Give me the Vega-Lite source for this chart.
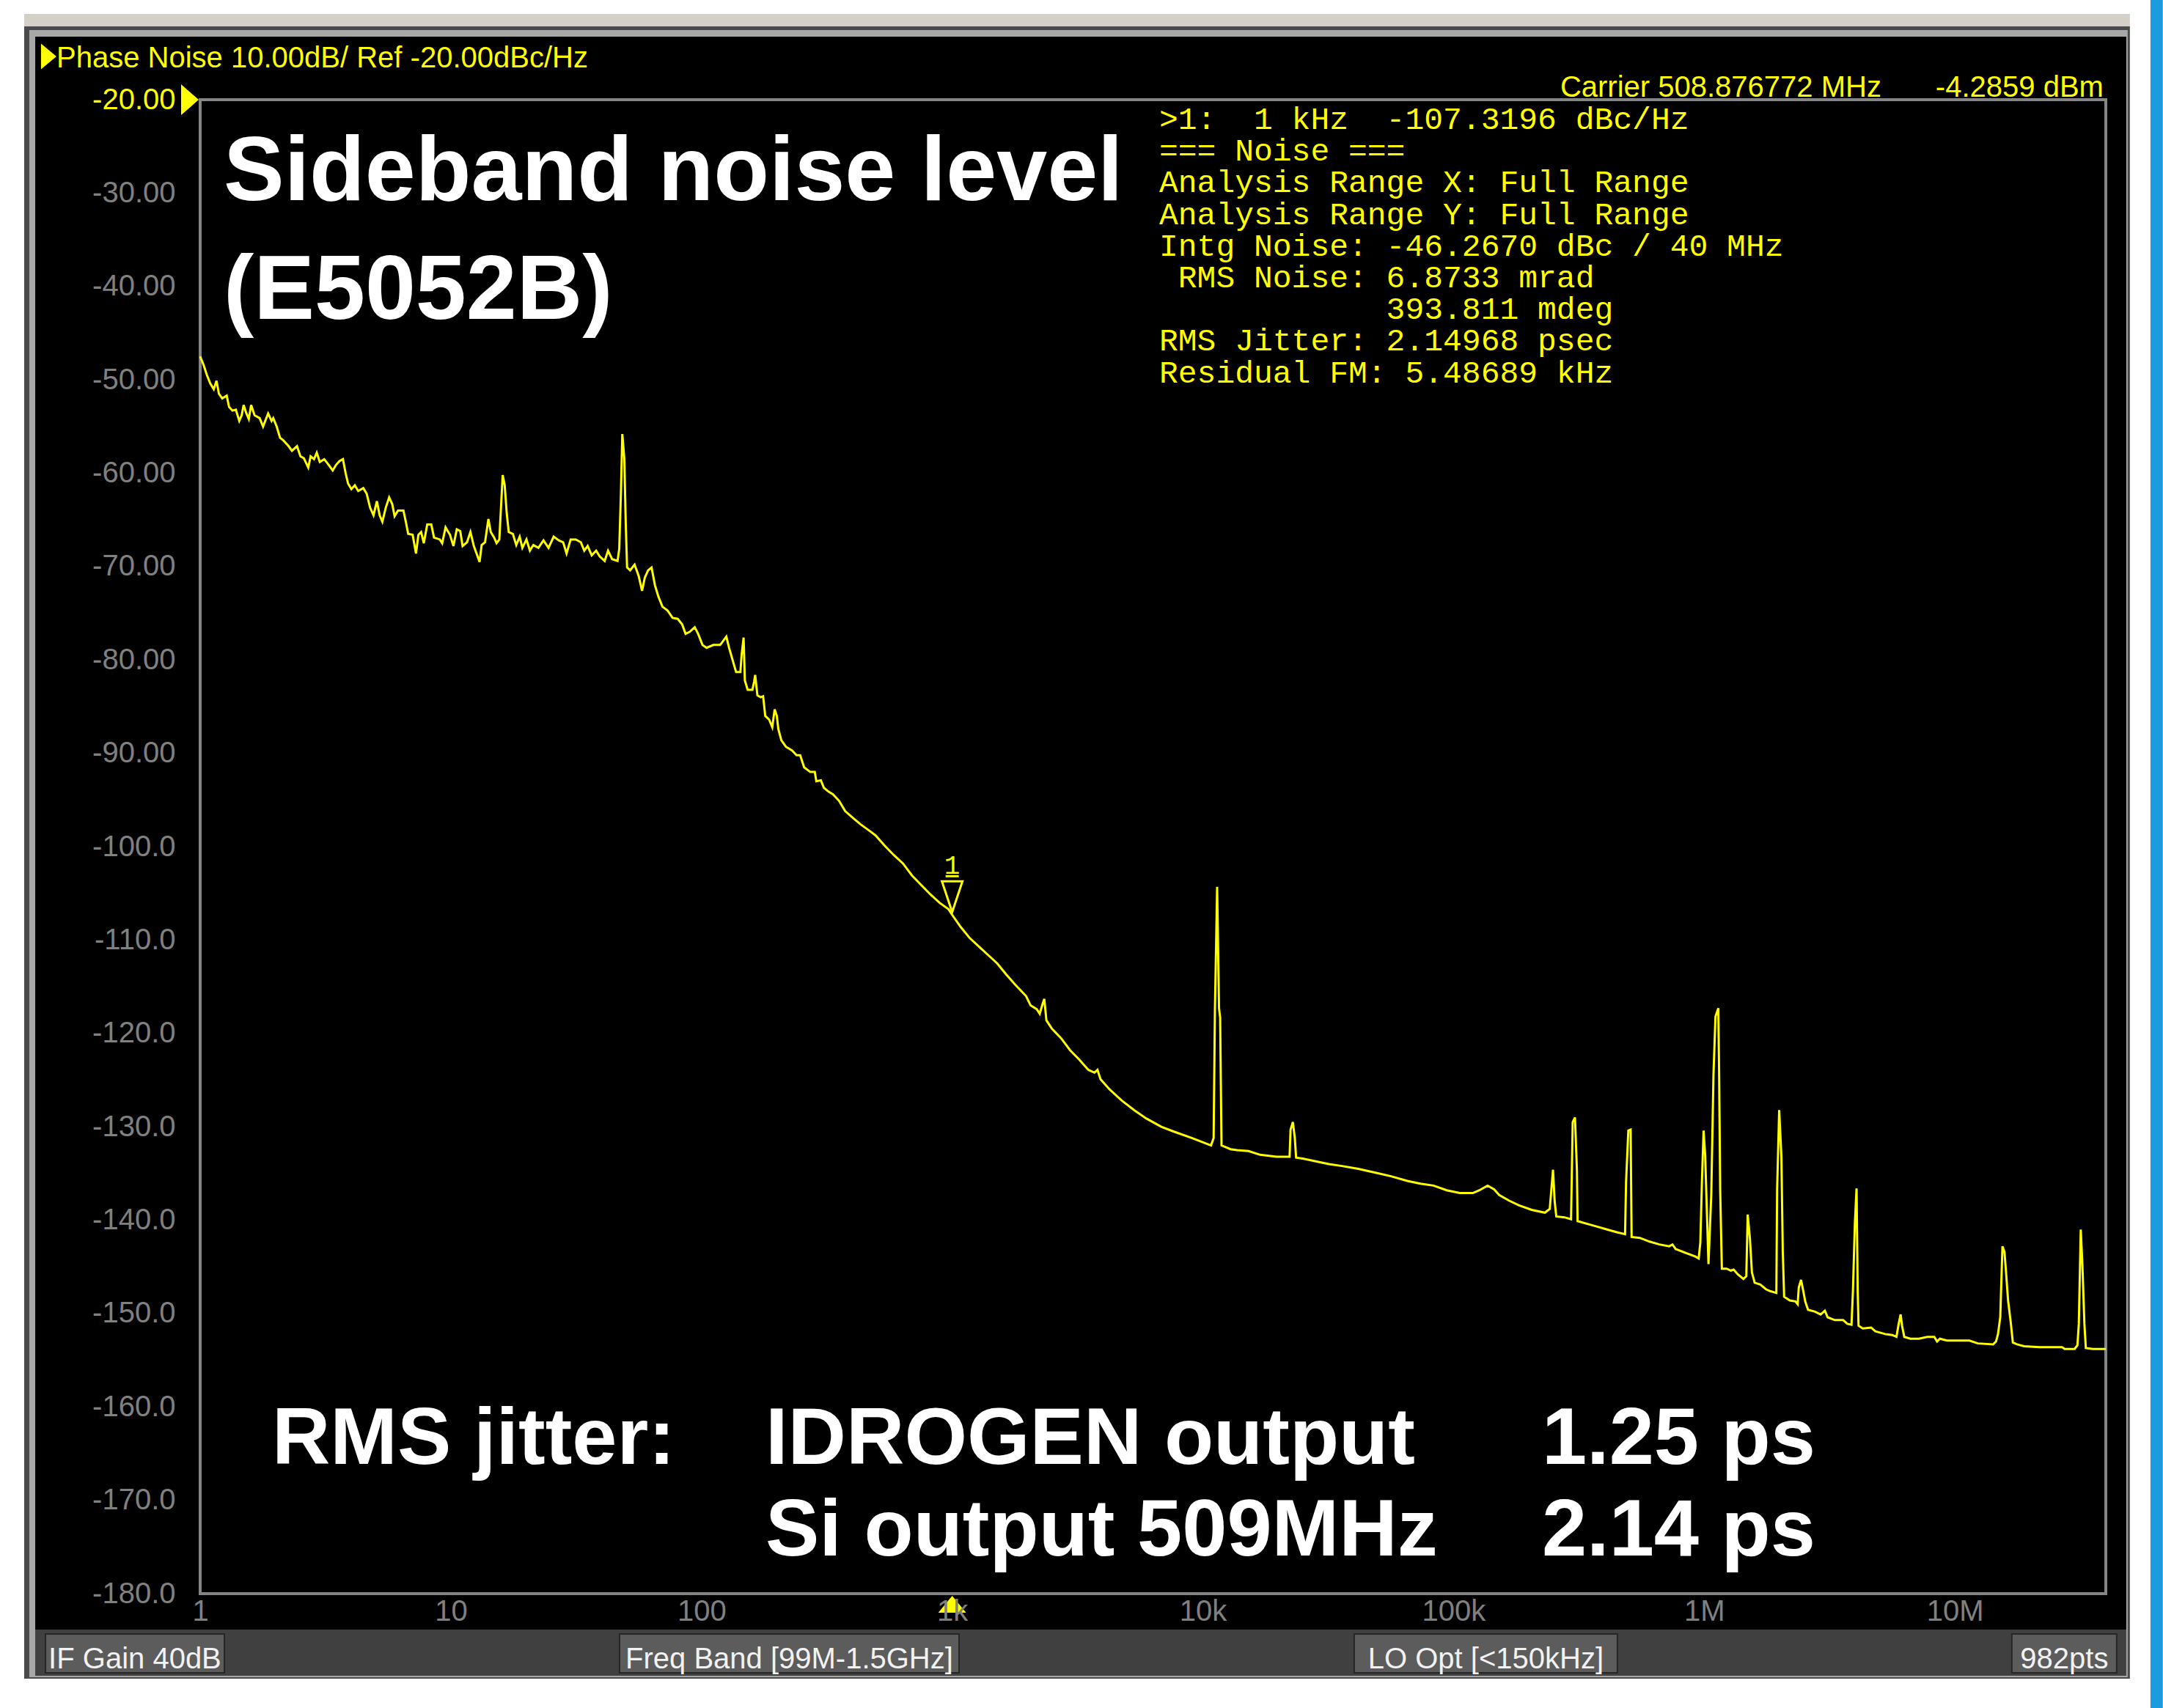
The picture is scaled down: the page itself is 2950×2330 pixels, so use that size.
{
  "$schema": "https://vega.github.io/schema/vega-lite/v6.json",
  "width": 2599,
  "height": 2038,
  "autosize": {"type": "none"},
  "padding": {"left": 273, "top": 136, "right": 78, "bottom": 156},
  "background": "white",
  "config": {"view": {"stroke": null}},
  "datasets": {
    "frame": [
      {"part": "titlebar", "f": 0.1986, "f1": 4.99e7, "db": -10.81, "d1": -12.15},
      {"part": "outer", "f": 0.1986, "f1": 4.99e7, "db": -12.15, "d1": -189.11},
      {"part": "bevel", "f": 0.2082, "f1": 4.89e7, "db": -12.54, "d1": -188.95},
      {"part": "panel", "f": 0.2198, "f1": 4.8265e7, "db": -13.25, "d1": -183.85},
      {"part": "statusbar", "f": 0.2198, "f1": 4.8265e7, "db": -183.85, "d1": -188.79},
      {"part": "edge", "f": 6.027e7, "f1": 6.755e7, "db": -9.32, "d1": -192.25}
    ],
    "statusboxes": [
      {"label": "IF Gain 40dB", "f": 0.2415, "f1": 1.249, "db": -184.32, "d1": -188.48},
      {"label": "Freq Band [99M-1.5GHz]", "f": 47.1, "f1": 1065, "db": -184.32, "d1": -188.48},
      {"label": "LO Opt [<150kHz]", "f": 40150, "f1": 450500, "db": -184.32, "d1": -188.48},
      {"label": "982pts", "f": 1.687e7, "f1": 4.42e7, "db": -184.32, "d1": -188.48}
    ],
    "statustext": [
      {"text": "IF Gain 40dB", "f": 0.549, "db": -188.0},
      {"text": "Freq Band [99M-1.5GHz]", "f": 223.9, "db": -188.0},
      {"text": "LO Opt [<150kHz]", "f": 134500, "db": -188.0},
      {"text": "982pts", "f": 2.732e7, "db": -188.0}
    ],
    "vgrid": [
      {"f": 2}, {"f": 3}, {"f": 4}, {"f": 5}, {"f": 6}, {"f": 7}, {"f": 8}, {"f": 9},
      {"f": 10}, {"f": 20}, {"f": 30}, {"f": 40}, {"f": 50}, {"f": 60}, {"f": 70}, {"f": 80}, {"f": 90},
      {"f": 100}, {"f": 200}, {"f": 300}, {"f": 400}, {"f": 500}, {"f": 600}, {"f": 700}, {"f": 800}, {"f": 900},
      {"f": 1000}, {"f": 2000}, {"f": 3000}, {"f": 4000}, {"f": 5000}, {"f": 6000}, {"f": 7000}, {"f": 8000}, {"f": 9000},
      {"f": 10000}, {"f": 20000}, {"f": 30000}, {"f": 40000}, {"f": 50000}, {"f": 60000}, {"f": 70000}, {"f": 80000}, {"f": 90000},
      {"f": 100000}, {"f": 200000}, {"f": 300000}, {"f": 400000}, {"f": 500000}, {"f": 600000}, {"f": 700000}, {"f": 800000}, {"f": 900000},
      {"f": 1000000}, {"f": 2000000}, {"f": 3000000}, {"f": 4000000}, {"f": 5000000}, {"f": 6000000}, {"f": 7000000}, {"f": 8000000}, {"f": 9000000},
      {"f": 10000000}, {"f": 20000000}, {"f": 30000000}
    ],
    "hgrid": [
      {"db": -30}, {"db": -40}, {"db": -50}, {"db": -60}, {"db": -70}, {"db": -80}, {"db": -90}, {"db": -100},
      {"db": -110}, {"db": -120}, {"db": -130}, {"db": -140}, {"db": -150}, {"db": -160}, {"db": -170}
    ],
    "border": [{"f": 1, "f1": 40000000, "db": -20, "d1": -180}],
    "headline": [
      {"text": "Sideband noise level", "f": 1.24, "db": -30.75},
      {"text": "(E5052B)", "f": 1.24, "db": -43.47}
    ],
    "jitter": [
      {"text": "RMS jitter:", "f": 1.934, "db": -166.07},
      {"text": "IDROGEN output", "f": 179.9, "db": -166.07},
      {"text": "1.25 ps", "f": 225200, "db": -166.07},
      {"text": "Si output 509MHz", "f": 179.9, "db": -175.89},
      {"text": "2.14 ps", "f": 225200, "db": -175.89}
    ],
    "readout": [
      {"lines": [
        ">1:\u00a0\u00a01\u00a0kHz\u00a0\u00a0-107.3196\u00a0dBc/Hz",
        "===\u00a0Noise\u00a0===",
        "Analysis\u00a0Range\u00a0X:\u00a0Full\u00a0Range",
        "Analysis\u00a0Range\u00a0Y:\u00a0Full\u00a0Range",
        "Intg\u00a0Noise:\u00a0-46.2670\u00a0dBc\u00a0/\u00a040\u00a0MHz",
        "\u200b\u00a0RMS\u00a0Noise:\u00a06.8733\u00a0mrad",
        "\u200b\u00a0\u00a0\u00a0\u00a0\u00a0\u00a0\u00a0\u00a0\u00a0\u00a0\u00a0\u00a0393.811\u00a0mdeg",
        "RMS\u00a0Jitter:\u00a02.14968\u00a0psec",
        "Residual\u00a0FM:\u00a05.48689\u00a0kHz"
      ], "f": 6696, "db": -23.14}
    ],
    "carrier": [
      {"text": "Carrier 508.876772 MHz", "f": 5090000, "db": -19.65},
      {"text": "-4.2859 dBm", "f": 39170000, "db": -19.65}
    ],
    "title": [
      {"text": "Phase Noise 10.00dB/ Ref -20.00dBc/Hz", "f": 0.2672, "db": -16.55}
    ],
    "pointers": [
      {"kind": "title", "f": 0.2318, "db": -15.37},
      {"kind": "ref", "f": 1, "db": -20},
      {"kind": "axis", "f": 1000, "db": -180}
    ],
    "marker": [{"text": "1", "f": 1000, "db": -107.32}],
    "trace": [
      {"f":1.0,"db":-47.5},{"f":1.032,"db":-48.4},{"f":1.064,"db":-49.5},{"f":1.098,"db":-50.4},{"f":1.133,"db":-51.0},{"f":1.162,"db":-50.1},{"f":1.188,"db":-51.5},{"f":1.225,"db":-52.0},{"f":1.276,"db":-51.7},{"f":1.304,"db":-52.9},{"f":1.345,"db":-53.3},{"f":1.388,"db":-53.2},{"f":1.432,"db":-54.4},{"f":1.464,"db":-53.8},{"f":1.491,"db":-52.7},{"f":1.524,"db":-53.5},{"f":1.563,"db":-54.2},{"f":1.597,"db":-52.7},{"f":1.648,"db":-53.8},{"f":1.727,"db":-54.1},{"f":1.782,"db":-55.0},{"f":1.867,"db":-53.6},{"f":1.927,"db":-54.4},{"f":1.957,"db":-54.1},{"f":2.019,"db":-55.0},{"f":2.083,"db":-56.2},{"f":2.149,"db":-56.5},{"f":2.252,"db":-57.1},{"f":2.323,"db":-57.6},{"f":2.434,"db":-57.1},{"f":2.512,"db":-58.2},{"f":2.592,"db":-58.4},{"f":2.699,"db":-59.4},{"f":2.758,"db":-58.2},{"f":2.846,"db":-58.5},{"f":2.918,"db":-57.8},{"f":3.001,"db":-58.8},{"f":3.126,"db":-58.5},{"f":3.254,"db":-59.1},{"f":3.379,"db":-59.7},{"f":3.486,"db":-59.1},{"f":3.596,"db":-58.7},{"f":3.711,"db":-58.5},{"f":3.805,"db":-60.0},{"f":3.889,"db":-61.1},{"f":4.012,"db":-61.7},{"f":4.139,"db":-61.3},{"f":4.27,"db":-61.9},{"f":4.475,"db":-61.6},{"f":4.617,"db":-62.2},{"f":4.764,"db":-63.7},{"f":4.915,"db":-64.5},{"f":5.071,"db":-63.0},{"f":5.199,"db":-64.5},{"f":5.331,"db":-65.2},{"f":5.5,"db":-63.7},{"f":5.675,"db":-62.6},{"f":5.836,"db":-63.3},{"f":5.965,"db":-64.6},{"f":6.155,"db":-64.0},{"f":6.47,"db":-64.0},{"f":6.613,"db":-65.2},{"f":6.759,"db":-66.5},{"f":7.04,"db":-66.6},{"f":7.261,"db":-68.6},{"f":7.422,"db":-66.6},{"f":7.61,"db":-66.3},{"f":7.802,"db":-67.5},{"f":8.05,"db":-65.5},{"f":8.356,"db":-65.5},{"f":8.568,"db":-66.9},{"f":9.035,"db":-67.1},{"f":9.235,"db":-67.5},{"f":9.528,"db":-65.8},{"f":9.922,"db":-66.6},{"f":10.24,"db":-67.8},{"f":10.56,"db":-66.0},{"f":10.9,"db":-66.2},{"f":11.14,"db":-67.8},{"f":11.6,"db":-67.4},{"f":11.97,"db":-66.3},{"f":12.35,"db":-67.8},{"f":12.74,"db":-68.8},{"f":13.02,"db":-69.5},{"f":13.27,"db":-67.7},{"f":13.69,"db":-67.4},{"f":14.12,"db":-64.9},{"f":14.43,"db":-66.3},{"f":14.89,"db":-66.9},{"f":15.22,"db":-67.5},{"f":15.61,"db":-67.1},{"f":15.85,"db":-63.7},{"f":16.1,"db":-60.2},{"f":16.4,"db":-61.3},{"f":16.71,"db":-64.3},{"f":17.02,"db":-66.3},{"f":17.68,"db":-66.5},{"f":18.24,"db":-67.7},{"f":18.82,"db":-66.8},{"f":19.29,"db":-68.0},{"f":20.03,"db":-67.1},{"f":20.67,"db":-68.3},{"f":21.33,"db":-67.7},{"f":22.35,"db":-68.0},{"f":23.42,"db":-67.2},{"f":24.53,"db":-68.0},{"f":25.72,"db":-66.8},{"f":26.95,"db":-67.2},{"f":28.06,"db":-67.4},{"f":28.95,"db":-68.6},{"f":30.06,"db":-67.1},{"f":31.5,"db":-67.1},{"f":33.01,"db":-67.4},{"f":34.06,"db":-68.3},{"f":35.14,"db":-67.8},{"f":36.48,"db":-68.8},{"f":37.99,"db":-68.3},{"f":39.2,"db":-68.9},{"f":41.08,"db":-69.4},{"f":42.38,"db":-68.3},{"f":43.99,"db":-69.2},{"f":46.24,"db":-69.4},{"f":46.97,"db":-68.1},{"f":47.71,"db":-62.0},{"f":48.31,"db":-55.8},{"f":49.22,"db":-58.5},{"f":49.84,"db":-65.2},{"f":50.47,"db":-70.1},{"f":51.91,"db":-70.4},{"f":54.07,"db":-69.8},{"f":56.14,"db":-71.0},{"f":57.91,"db":-72.6},{"f":59.38,"db":-71.2},{"f":61.25,"db":-70.4},{"f":63.2,"db":-70.1},{"f":65.2,"db":-72.0},{"f":67.27,"db":-73.2},{"f":69.84,"db":-74.3},{"f":73.18,"db":-74.7},{"f":76.68,"db":-75.5},{"f":80.36,"db":-75.6},{"f":83.71,"db":-76.2},{"f":86.37,"db":-77.2},{"f":89.65,"db":-77.0},{"f":93.96,"db":-76.5},{"f":96.92,"db":-77.2},{"f":100.9,"db":-78.4},{"f":104.8,"db":-78.7},{"f":111.5,"db":-78.4},{"f":118.7,"db":-78.4},{"f":125.6,"db":-77.5},{"f":128.8,"db":-78.7},{"f":133.7,"db":-80.2},
      {"f":137.4,"db":-81.3},{"f":142.9,"db":-81.3},{"f":144.5,"db":-79.5},{"f":147.2,"db":-77.6},{"f":148.9,"db":-82.2},{"f":152.8,"db":-83.2},{"f":159.6,"db":-83.2},{"f":162.2,"db":-82.3},{"f":163.7,"db":-81.6},{"f":167.1,"db":-83.8},{"f":172.2,"db":-84.0},
      {"f":176.1,"db":-83.9},{"f":179.6,"db":-86.0},{"f":186.2,"db":-86.4},{"f":191.5,"db":-87.2},{"f":195.8,"db":-85.3},{"f":199.7,"db":-86.0},{"f":202.5,"db":-87.4},{"f":208.2,"db":-88.6},{"f":217.1,"db":-89.3},{"f":229.6,"db":-89.7},{"f":239.4,"db":-90.2},{"f":247.5,"db":-90.2},{"f":256.7,"db":-91.5},{"f":271.5,"db":-92.0},{"f":283.1,"db":-92.0},{"f":287.1,"db":-93.0},{"f":299.4,"db":-92.9},{"f":307.8,"db":-93.7},{"f":321.0,"db":-94.1},{"f":334.7,"db":-94.4},{"f":353.9,"db":-95.1},{"f":374.3,"db":-96.2},{"f":401.4,"db":-96.9},{"f":430.4,"db":-97.6},{"f":468.0,"db":-98.3},{"f":494.9,"db":-98.8},{"f":538.2,"db":-99.9},{"f":585.0,"db":-100.9},{"f":636.2,"db":-101.8},{"f":691.8,"db":-103.1},{"f":752.0,"db":-104.1},{"f":817.8,"db":-105.1},{"f":889.4,"db":-106.0},{"f":966.9,"db":-106.7},{"f":1000,"db":-107.3},{"f":1081,"db":-108.6},{"f":1176,"db":-109.8},{"f":1279,"db":-110.7},{"f":1390,"db":-111.6},{"f":1512,"db":-112.5},{"f":1644,"db":-113.7},{"f":1787,"db":-114.8},{"f":1971,"db":-116.0},{"f":2055,"db":-117.0},{"f":2174,"db":-117.4},{"f":2235,"db":-117.9},{"f":2285,"db":-117.0},{"f":2330,"db":-116.3},{"f":2376,"db":-118.6},{"f":2499,"db":-119.5},{"f":2717,"db":-120.5},{"f":2954,"db":-121.8},{"f":3213,"db":-122.8},{"f":3493,"db":-123.9},{"f":3694,"db":-124.2},{"f":3798,"db":-123.9},{"f":3906,"db":-124.9},{"f":4247,"db":-126.0},{"f":4750,"db":-127.2},{"f":5311,"db":-128.2},{"f":5937,"db":-129.1},{"f":6828,"db":-130.0},{"f":7634,"db":-130.5},{"f":9027,"db":-131.2},
      {"f":10780,"db":-132.0},{"f":11040,"db":-131.2},{"f":11170,"db":-117.6},{"f":11400,"db":-104.3},{"f":11600,"db":-117.3},{"f":11720,"db":-118.3},{"f":11870,"db":-132.0},{"f":12910,"db":-132.4},{"f":13710,"db":-132.5},{"f":15230,"db":-132.6},{"f":16920,"db":-133.0},{"f":19670,"db":-133.2},{"f":22180,"db":-133.2},{"f":22380,"db":-130.3},{"f":22860,"db":-129.5},{"f":23270,"db":-131.2},{"f":23550,"db":-133.3},{"f":25010,"db":-133.4},{"f":28200,"db":-133.7},{"f":31800,"db":-134.0},{"f":35870,"db":-134.2},{"f":41690,"db":-134.5},{"f":48450,"db":-134.9},{"f":56320,"db":-135.3},{"f":65460,"db":-135.8},{"f":73810,"db":-136.1},{"f":83260,"db":-136.3},{"f":93890,"db":-136.8},{"f":105900,"db":-137.1},{"f":119400,"db":-137.1},{"f":126800,"db":-136.8},{"f":136700,"db":-136.3},{"f":145200,"db":-136.7},{"f":151900,"db":-137.3},{"f":166300,"db":-137.9},{"f":181900,"db":-138.4},{"f":205100,"db":-138.9},{"f":231400,"db":-139.2},{"f":242000,"db":-138.8},{"f":249400,"db":-134.6},{"f":253200,"db":-138.0},{"f":257000,"db":-139.6},{"f":277100,"db":-139.7},{"f":294300,"db":-139.9},{"f":298800,"db":-129.5},{"f":305100,"db":-129.0},{"f":310600,"db":-134.6},{"f":312500,"db":-140.1},{"f":342000,"db":-140.4},{"f":374300,"db":-140.7},{"f":409700,"db":-141.0},{"f":448300,"db":-141.3},{"f":483400,"db":-141.5},{"f":487800,"db":-135.9},{"f":498100,"db":-130.4},{"f":508700,"db":-130.3},{"f":513300,"db":-141.8},{"f":553400,"db":-141.9},{"f":605600,"db":-142.3},{"f":662600,"db":-142.6},{"f":725100,"db":-142.8},{"f":747200,"db":-142.6},{"f":769900,"db":-143.1},{"f":842600,"db":-143.5},{"f":922300,"db":-143.9},{"f":950400,"db":-144.1},{"f":965000,"db":-142.4},{"f":979500,"db":-135.8},{"f":994300,"db":-130.4},{"f":1009000,"db":-133.1},{"f":1040000,"db":-144.7},
      {"f":1067000,"db":-137.3},{"f":1089000,"db":-124.4},{"f":1109000,"db":-118.2},{"f":1138000,"db":-117.3},{"f":1147000,"db":-124.4},{"f":1158000,"db":-136.7},{"f":1176000,"db":-145.2},{"f":1229000,"db":-145.2},{"f":1277000,"db":-145.4},{"f":1311000,"db":-145.3},{"f":1362000,"db":-145.8},{"f":1434000,"db":-146.3},{"f":1472000,"db":-146.0},{"f":1491000,"db":-139.4},{"f":1522000,"db":-142.0},{"f":1550000,"db":-145.6},{"f":1590000,"db":-146.7},{"f":1674000,"db":-146.9},{"f":1763000,"db":-147.4},{"f":1832000,"db":-147.6},{"f":1940000,"db":-147.8},{"f":1954000,"db":-136.6},{"f":1991000,"db":-128.2},{"f":2032000,"db":-133.2},{"f":2058000,"db":-143.4},{"f":2084000,"db":-148.2},{"f":2194000,"db":-148.6},{"f":2311000,"db":-148.7},{"f":2359000,"db":-149.0},{"f":2384000,"db":-147.2},{"f":2434000,"db":-146.4},{"f":2485000,"db":-147.6},{"f":2529000,"db":-148.7},{"f":2595000,"db":-149.6},{"f":2768000,"db":-149.8},{"f":2914000,"db":-150.1},{"f":3029000,"db":-149.7},{"f":3108000,"db":-150.4},{"f":3316000,"db":-150.7},{"f":3582000,"db":-150.7},{"f":3724000,"db":-151.1},{"f":3869000,"db":-151.2},{"f":3920000,"db":-147.6},{"f":3991000,"db":-140.3},{"f":4053000,"db":-136.6},{"f":4095000,"db":-147.6},{"f":4127000,"db":-151.3},{"f":4290000,"db":-151.6},{"f":4634000,"db":-151.5},{"f":4817000,"db":-151.9},{"f":5272000,"db":-152.2},{"f":5623000,"db":-152.3},{"f":5846000,"db":-152.5},{"f":5968000,"db":-151.1},{"f":6076000,"db":-150.1},{"f":6155000,"db":-151.3},{"f":6283000,"db":-152.5},{"f":6647000,"db":-152.7},{"f":7184000,"db":-152.7},{"f":7761000,"db":-152.5},{"f":8277000,"db":-152.5},{"f":8492000,"db":-153.0},{"f":8714000,"db":-152.7},{"f":9294000,"db":-152.9},{"f":10300000,"db":-152.9},{"f":11430000,"db":-152.9},{"f":12340000,"db":-153.2},{"f":14220000,"db":-153.3},{"f":14590000,"db":-153.0},{"f":14860000,"db":-152.2},{"f":15170000,"db":-150.4},{"f":15480000,"db":-142.8},{"f":15770000,"db":-143.4},{"f":15970000,"db":-145.3},{"f":16300000,"db":-148.6},{"f":16730000,"db":-151.1},{"f":17030000,"db":-153.1},{"f":17700000,"db":-153.3},{"f":18880000,"db":-153.5},{"f":21760000,"db":-153.6},{"f":26740000,"db":-153.6},{"f":27440000,"db":-153.8},{"f":30030000,"db":-153.8},{"f":30820000,"db":-153.4},{"f":31220000,"db":-151.1},{"f":31780000,"db":-141.0},{"f":32270000,"db":-144.9},{"f":32860000,"db":-151.1},{"f":33290000,"db":-153.7},{"f":35500000,"db":-153.8},{"f":40000000,"db":-153.8}
    ]
  },
  "encoding": {
    "x": {
      "field": "f", "type": "quantitative",
      "scale": {"type": "log", "domain": [1, 40000000], "nice": false},
      "axis": {
        "title": null, "grid": false, "ticks": false, "tickSize": 0, "domain": false, "zindex": 1,
        "values": [1, 10, 100, 1000, 10000, 100000, 1000000, 10000000],
        "labelExpr": "datum.value == 1 ? '1' : datum.value == 10 ? '10' : datum.value == 100 ? '100' : datum.value == 1000 ? '1k' : datum.value == 10000 ? '10k' : datum.value == 100000 ? '100k' : datum.value == 1000000 ? '1M' : datum.value == 10000000 ? '10M' : ''",
        "labelFont": "Liberation Sans", "labelFontSize": 40, "labelColor": "#808080",
        "labelPadding": 4, "labelFlush": false, "labelOverlap": false, "labelBound": false
      }
    },
    "y": {
      "field": "db", "type": "quantitative",
      "scale": {"domain": [-180, -20], "nice": false, "zero": false},
      "axis": {
        "title": null, "grid": false, "ticks": false, "tickSize": 0, "domain": false, "zindex": 1,
        "values": [-20, -30, -40, -50, -60, -70, -80, -90, -100, -110, -120, -130, -140, -150, -160, -170, -180],
        "labelExpr": "'-' + (datum.value > -100 ? format(-datum.value, '.2f') : format(-datum.value, '.1f'))",
        "labelFont": "Liberation Sans", "labelFontSize": 40,
        "labelColor": {"condition": {"test": "datum.value == -20", "value": "#ffff00"}, "value": "#808080"},
        "labelPadding": 34, "labelFlush": false, "labelOverlap": false, "labelBound": false
      }
    }
  },
  "layer": [
    {
      "data": {"name": "frame"},
      "mark": {"type": "rect", "strokeWidth": 0},
      "encoding": {
        "x2": {"field": "f1"},
        "y2": {"field": "d1"},
        "color": {
          "field": "part", "type": "nominal", "legend": null,
          "scale": {"domain": ["titlebar", "outer", "bevel", "panel", "statusbar", "edge"],
                    "range": ["#d4d0c8", "#4a4a4a", "#a8a8a8", "#000000", "#404040", "#1e9be0"]}
        }
      }
    },
    {
      "data": {"name": "statusboxes"},
      "mark": {"type": "rect", "color": "#5c5c5c", "stroke": "#262626", "strokeWidth": 2},
      "encoding": {"x2": {"field": "f1"}, "y2": {"field": "d1"}}
    },
    {
      "data": {"name": "statustext"},
      "mark": {"type": "text", "font": "Liberation Sans", "fontSize": 40, "color": "#f2f2f2", "align": "center", "baseline": "alphabetic"},
      "encoding": {"text": {"field": "text"}}
    },
    {
      "data": {"name": "vgrid"},
      "mark": {"type": "rule", "color": "#444444", "strokeWidth": 3},
      "encoding": {"y": {"datum": -20}, "y2": {"datum": -180}}
    },
    {
      "data": {"name": "hgrid"},
      "mark": {"type": "rule", "color": "#444444", "strokeWidth": 3},
      "encoding": {"x": {"datum": 1}, "x2": {"datum": 40000000}}
    },
    {
      "data": {"name": "border"},
      "mark": {"type": "rect", "filled": false, "stroke": "#858585", "strokeWidth": 4},
      "encoding": {"x2": {"field": "f1"}, "y2": {"field": "d1"}}
    },
    {
      "data": {"name": "headline"},
      "mark": {"type": "text", "font": "Liberation Sans", "fontWeight": "bold", "fontSize": 124, "color": "#ffffff", "align": "left", "baseline": "alphabetic"},
      "encoding": {"text": {"field": "text"}}
    },
    {
      "data": {"name": "jitter"},
      "mark": {"type": "text", "font": "Liberation Sans", "fontWeight": "bold", "fontSize": 110, "color": "#ffffff", "align": "left", "baseline": "alphabetic"},
      "encoding": {"text": {"field": "text"}}
    },
    {
      "data": {"name": "readout"},
      "mark": {"type": "text", "font": "Liberation Mono", "fontSize": 43, "lineHeight": 43.2, "color": "#ffff00", "align": "left", "baseline": "alphabetic"},
      "encoding": {"text": {"field": "lines"}}
    },
    {
      "data": {"name": "carrier"},
      "mark": {"type": "text", "font": "Liberation Sans", "fontSize": 40, "color": "#ffff00", "align": "right", "baseline": "alphabetic"},
      "encoding": {"text": {"field": "text"}}
    },
    {
      "data": {"name": "title"},
      "mark": {"type": "text", "font": "Liberation Sans", "fontSize": 40, "color": "#ffff00", "align": "left", "baseline": "alphabetic"},
      "encoding": {"text": {"field": "text"}}
    },
    {
      "data": {"name": "trace"},
      "mark": {"type": "line", "color": "#ffff00", "strokeWidth": 3, "interpolate": "linear"}
    },
    {
      "data": {"name": "pointers"},
      "mark": {"type": "point", "filled": true, "opacity": 1, "color": "#ffff00", "size": 400, "strokeWidth": 0},
      "encoding": {
        "shape": {
          "field": "kind", "type": "nominal", "legend": null,
          "scale": {"domain": ["title", "ref", "axis"],
                    "range": ["M0,-1.75L2.1,0L0,1.75Z", "M-2.6,-2.1L-0.2,0L-2.6,2.1Z", "M0,0.3L-1.9,2.6L1.9,2.6Z"]}
        }
      }
    },
    {
      "data": {"name": "marker"},
      "mark": {"type": "point", "filled": false, "opacity": 1, "color": "#ffff00", "size": 400, "strokeWidth": 3,
               "shape": "M-1.4,-4.6L1.4,-4.6L0,-0.4Z M-0.9,-5.3L0.9,-5.3"}
    },
    {
      "data": {"name": "marker"},
      "mark": {"type": "text", "font": "Liberation Mono", "fontSize": 36, "color": "#ffff00", "align": "center", "baseline": "alphabetic", "dy": -56},
      "encoding": {"text": {"field": "text"}}
    }
  ]
}
